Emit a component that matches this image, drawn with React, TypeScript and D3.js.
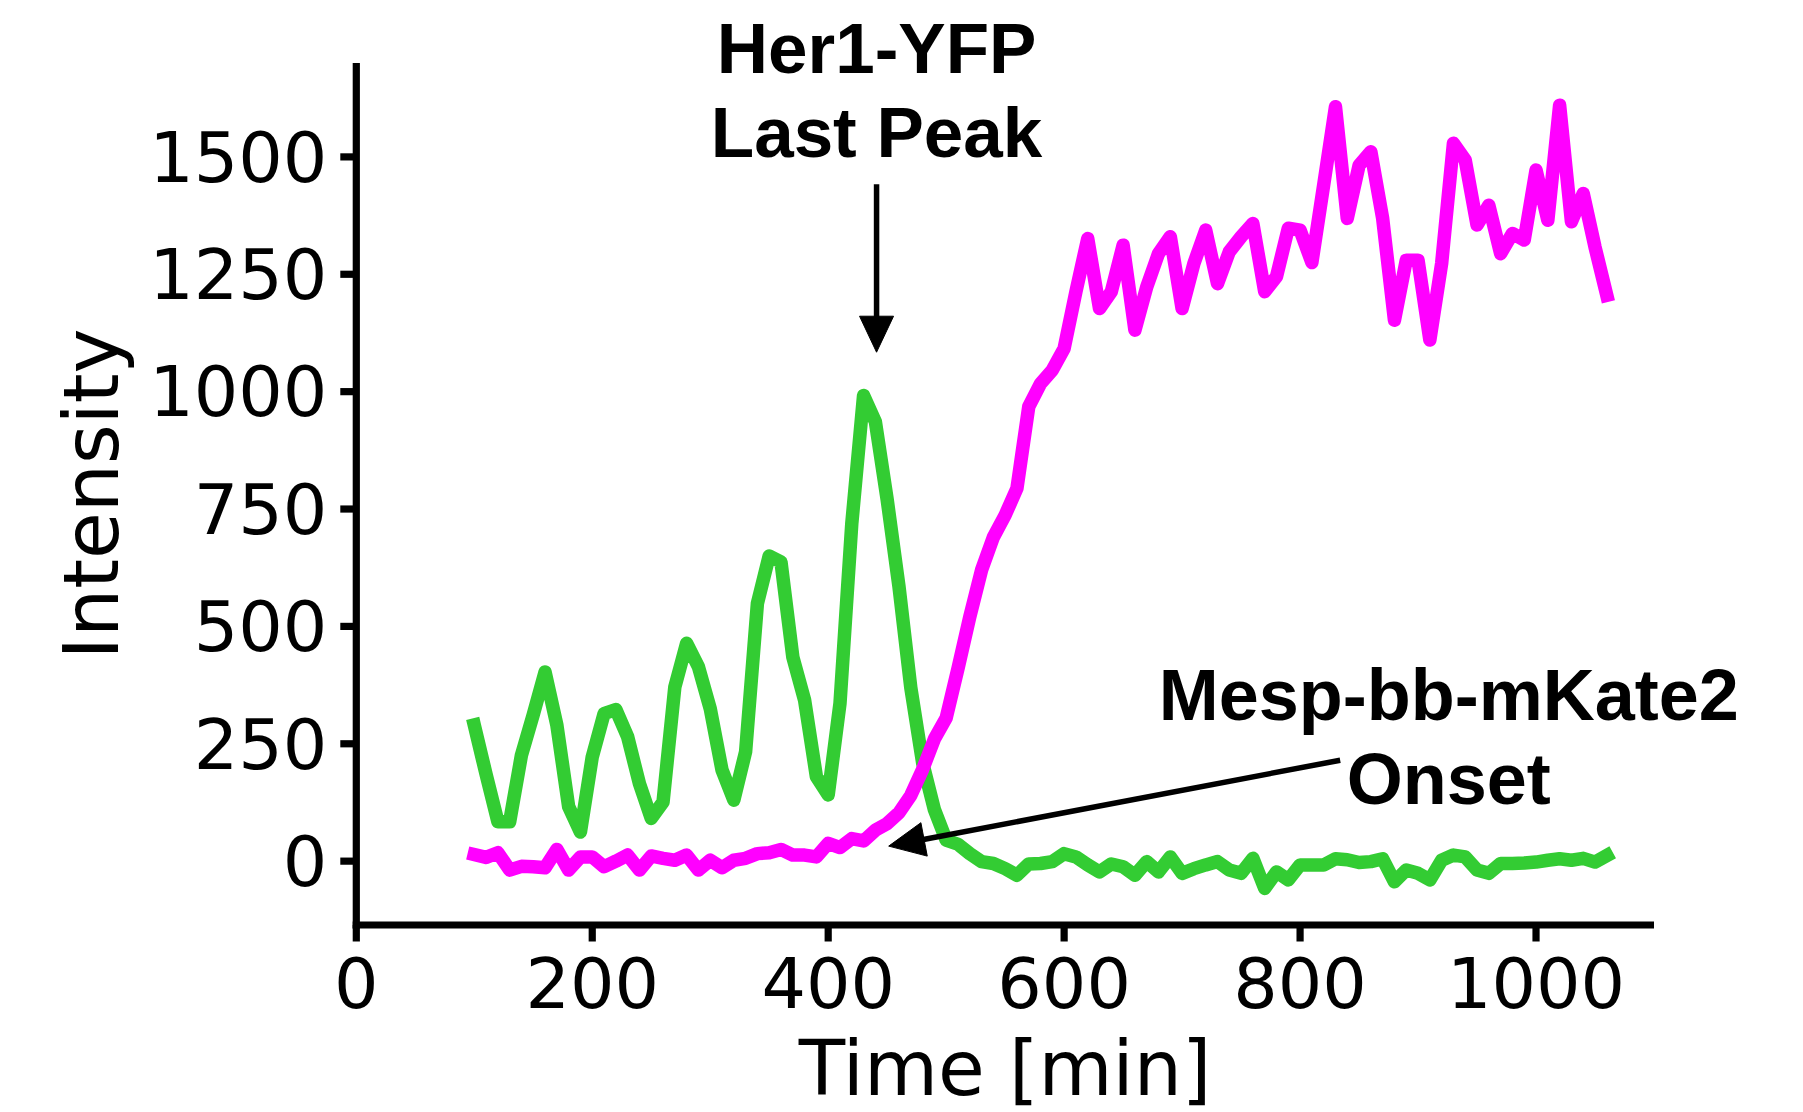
import React from 'react';
import * as d3 from 'd3';

// Sampling grid: one frame every 10 min, from 100 to 1060 min
const times: number[] = d3.range(100, 1061, 10);

// Her1-YFP intensity (green)
const her1: number[] = [
  290, 185, 84, 84, 226, 312, 403, 290, 116, 62,
  222, 314, 323, 265, 165, 91, 126, 371, 464, 414,
  325, 194, 130, 233, 549, 650, 637, 435, 343, 180,
  141, 336, 719, 992, 936, 770, 585, 370, 210, 110,
  45, 36, 16, -1, -5, -16, -30, -6, -5, -1,
  16, 9, -8, -23, -6, -12, -30, -1, -23, 9,
  -26, -16, -8, -1, -19, -26, 6, -58, -23, -40,
  -8, -8, -8, 5, 3, -3, -1, 5, -44, -19,
  -26, -40, 2, 13, 9, -19, -26, -5, -5, -4,
  -2, 2, 5, 2, 6, -2, 12,
];

// Mesp-bb-mKate2 intensity (magenta)
const mesp: number[] = [
  14, 8, 18, -19, -11, -12, -14, 25, -19, 9,
  9, -12, 0, 13, -19, 11, 6, 2, 13, -19,
  2, -14, 2, 6, 16, 18, 25, 13, 13, 9,
  38, 29, 48, 43, 66, 80, 103, 140, 195, 260,
  305, 410, 520, 620, 690, 737, 794, 968, 1017, 1046,
  1092, 1213, 1326, 1177, 1213, 1312, 1131, 1223, 1294, 1330,
  1177, 1273, 1344, 1230, 1298, 1330, 1358, 1213, 1245, 1348,
  1344, 1275, 1440, 1607, 1369, 1482, 1511, 1369, 1152, 1280,
  1280, 1110, 1273, 1529, 1493, 1355, 1397, 1294, 1337, 1323,
  1472, 1365, 1610, 1362, 1422, 1308, 1205,
];

const xTicks: number[] = [0, 200, 400, 600, 800, 1000];
const yTicks: number[] = [0, 250, 500, 750, 1000, 1250, 1500];

const xLabel = 'Time [min]';
const yLabel = 'Intensity';

// Annotations (data units)
const her1Lines = ['Her1-YFP', 'Last Peak'];
const her1TextX = 441;
const her1TextY = [1678, 1500];
const her1ArrowTail: [number, number] = [441, 1442];
const her1ArrowTip: [number, number] = [441, 1084];

const mespLines = ['Mesp-bb-mKate2', 'Onset'];
const mespTextX = 926;
const mespTextY = [300, 121];
const mespArrowTail: [number, number] = [834, 215];
const mespArrowTip: [number, number] = [451.3, 32];

const GREEN = '#33CC33';
const MAGENTA = '#FF00FF';

function Arrow({ x1, y1, x2, y2 }: { x1: number; y1: number; x2: number; y2: number }) {
  const dx = x2 - x1;
  const dy = y2 - y1;
  const len = Math.sqrt(dx * dx + dy * dy);
  const ux = dx / len;
  const uy = dy / len;
  const headLen = 36;
  const headHalf = 17;
  const bx = x2 - ux * headLen;
  const by = y2 - uy * headLen;
  const px = -uy;
  const py = ux;
  const pts = [
    [x2, y2],
    [bx + px * headHalf, by + py * headHalf],
    [bx - px * headHalf, by - py * headHalf],
  ]
    .map((p) => p.join(','))
    .join(' ');
  return (
    <g>
      <line x1={x1} y1={y1} x2={bx + ux * 2} y2={by + uy * 2} stroke="#000" strokeWidth={5.5} />
      <polygon points={pts} fill="#000" stroke="#000" strokeWidth={1} strokeLinejoin="miter" />
    </g>
  );
}

export default function App() {
  const W = 1803;
  const H = 1112;
  const x = d3.scaleLinear().domain([0, 1100]).range([356.3, 1654]);
  const y = d3.scaleLinear().domain([-136, 1700]).range([925, 63]);

  const line = d3
    .line<number>()
    .x((_, i) => x(times[i]))
    .y((d) => y(d));

  const tickFont = 'DejaVu Sans, Verdana, sans-serif';
  const annFont = 'Liberation Sans, Arial, Helvetica, sans-serif';
  const axisLeft = x.range()[0];
  const axisBottom = y.range()[0];
  const sw = 7.2;

  return (
    <svg
      width={W}
      height={H}
      viewBox={`0 0 ${W} ${H}`}
      style={{ position: 'absolute', left: 0, top: 0, background: '#fff' }}
    >
      <rect x={0} y={0} width={W} height={H} fill="#fff" />

      {/* data lines */}
      <path d={line(her1) || ''} fill="none" stroke={GREEN} strokeWidth={13.5} strokeLinejoin="round" strokeLinecap="square" />
      <path d={line(mesp) || ''} fill="none" stroke={MAGENTA} strokeWidth={13.5} strokeLinejoin="round" strokeLinecap="square" />

      {/* spines */}
      <line x1={axisLeft} y1={y.range()[1]} x2={axisLeft} y2={axisBottom + sw / 2} stroke="#000" strokeWidth={sw} />
      <line x1={axisLeft - sw / 2} y1={axisBottom} x2={x.range()[1]} y2={axisBottom} stroke="#000" strokeWidth={sw} />

      {/* y ticks */}
      {yTicks.map((t) => (
        <g key={`y${t}`}>
          <line x1={axisLeft - 16} x2={axisLeft} y1={y(t)} y2={y(t)} stroke="#000" strokeWidth={sw} />
          <text
            x={axisLeft - 29}
            y={y(t)}
            dy="0.355em"
            textAnchor="end"
            fontFamily={tickFont}
            fontSize={70}
            fill="#000"
          >
            {t}
          </text>
        </g>
      ))}

      {/* x ticks */}
      {xTicks.map((t) => (
        <g key={`x${t}`}>
          <line x1={x(t)} x2={x(t)} y1={axisBottom} y2={axisBottom + 16.5} stroke="#000" strokeWidth={sw} />
          <text
            x={x(t)}
            y={1008}
            textAnchor="middle"
            fontFamily={tickFont}
            fontSize={70}
            fill="#000"
          >
            {t}
          </text>
        </g>
      ))}

      {/* axis labels */}
      <text x={(x.range()[0] + x.range()[1]) / 2} y={1095} textAnchor="middle" fontFamily={tickFont} fontSize={76} fill="#000">
        {xLabel}
      </text>
      <text
        transform={`translate(118, ${(y.range()[0] + y.range()[1]) / 2}) rotate(-90)`}
        textAnchor="middle"
        fontFamily={tickFont}
        fontSize={76}
        fill="#000"
      >
        {yLabel}
      </text>

      {/* annotations */}
      {her1Lines.map((s, i) => (
        <text key={s} x={x(her1TextX)} y={y(her1TextY[i])} textAnchor="middle" fontFamily={annFont} fontWeight="bold" fontSize={71} fill="#000">
          {s}
        </text>
      ))}
      <Arrow x1={x(her1ArrowTail[0])} y1={y(her1ArrowTail[1])} x2={x(her1ArrowTip[0])} y2={y(her1ArrowTip[1])} />

      {mespLines.map((s, i) => (
        <text key={s} x={x(mespTextX)} y={y(mespTextY[i])} textAnchor="middle" fontFamily={annFont} fontWeight="bold" fontSize={72} fill="#000">
          {s}
        </text>
      ))}
      <Arrow x1={x(mespArrowTail[0])} y1={y(mespArrowTail[1])} x2={x(mespArrowTip[0])} y2={y(mespArrowTip[1])} />
    </svg>
  );
}
